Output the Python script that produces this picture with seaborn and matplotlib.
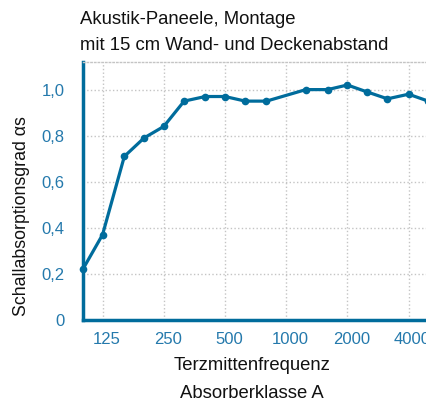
import matplotlib
matplotlib.use("Agg")
import matplotlib.pyplot as plt
import matplotlib.transforms as mtransforms
from matplotlib import font_manager
import seaborn as sns
import pandas as pd

# Third-octave band centre frequencies (Hz) and measured absorption coefficients
frequencies = [100, 125, 160, 200, 250, 315, 400, 500, 630, 800,
               1250, 1600, 2000, 2500, 3150, 4000, 5000]
alpha_s = [0.22, 0.37, 0.71, 0.79, 0.84, 0.95, 0.97, 0.97, 0.95, 0.95,
           1.00, 1.00, 1.02, 0.99, 0.96, 0.98, 0.95]

octave_ticks = [125, 250, 500, 1000, 2000, 4000]
octave_labels = ["125", "250", "500", "1000", "2000", "4000"]
y_ticks = [0, 0.2, 0.4, 0.6, 0.8, 1.0]
y_labels = ["0", "0,2", "0,4", "0,6", "0,8", "1,0"]

title_lines = ["Akustik-Paneele, Montage", "mit 15 cm Wand- und Deckenabstand"]
x_label_lines = ["Terzmittenfrequenz", "Absorberklasse A"]
y_label = "Schallabsorptionsgrad αs"

df = pd.DataFrame({"freq": frequencies, "alpha": alpha_s})

sns.set_theme(style="white")
available = {f.name for f in font_manager.fontManager.ttflist}
family = "Liberation Sans Narrow" if "Liberation Sans Narrow" in available else "Liberation Sans"
plt.rcParams["font.family"] = [family, "DejaVu Sans"]

line_color = "#006c9c"
tick_color = "#2479ac"
text_color = "#111111"

fig = plt.figure(figsize=(4.27, 4.05), dpi=100)
ax = fig.add_axes([0.194, 0.21, 0.809, 0.637])

sns.lineplot(data=df, x="freq", y="alpha", ax=ax, color=line_color,
             linewidth=2.3, marker="o", markersize=5.5,
             markeredgewidth=0, clip_on=False, zorder=5)

ax.set_xscale("log")
ax.set_xlim(100, 5000)
ax.set_ylim(0, 1.12)

ax.set_xticks(octave_ticks)
ax.set_xticklabels(octave_labels)
ax.minorticks_off()
ax.set_yticks(y_ticks)
ax.set_yticklabels(y_labels)

ax.tick_params(axis="both", length=0, colors=tick_color, labelsize=12)
ax.tick_params(axis="x", pad=9)
ax.tick_params(axis="y", pad=13)
shift = mtransforms.ScaledTranslation(4 / 100, 0, fig.dpi_scale_trans)
for lbl in ax.get_xticklabels():
    lbl.set_transform(lbl.get_transform() + shift)

ax.grid(True, which="major", linestyle=":", color="#c4c4c4", linewidth=1.0)
ax.set_axisbelow(True)

for side in ("left", "bottom"):
    ax.spines[side].set_color(line_color)
    ax.spines[side].set_linewidth(2.5)
ax.spines["right"].set_visible(False)
ax.spines["top"].set_linestyle(":")
ax.spines["top"].set_color("#c4c4c4")
ax.spines["top"].set_linewidth(1.0)

ax.set_xlabel("")
ax.set_ylabel("")

fig.text(22 / 427, 1 - 216 / 405, y_label, fontsize=12.8, color=text_color,
         rotation=90, ha="center", va="center")

fig.text(252 / 427, 1 - 366 / 405, x_label_lines[0], fontsize=13.3,
         color=text_color, ha="center", va="center")
fig.text(252 / 427, 1 - 393 / 405, x_label_lines[1], fontsize=13.3,
         color=text_color, ha="center", va="center")

fig.text(80 / 427, 1 - 20 / 405, title_lines[0], fontsize=13.3,
         color=text_color, ha="left", va="center")
fig.text(80 / 427, 1 - 45 / 405, title_lines[1], fontsize=13.3,
         color=text_color, ha="left", va="center")

fig.savefig("out.png", dpi=100)
